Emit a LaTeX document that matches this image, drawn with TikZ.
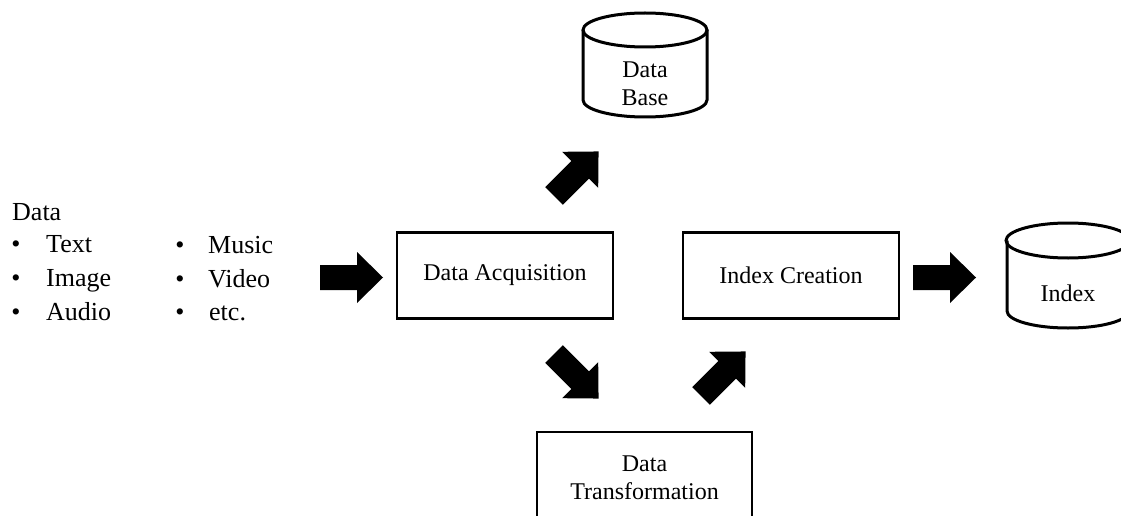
\documentclass[tikz,border=0pt]{standalone}
\usepackage{fontspec}
\setmainfont{Liberation Serif}
\begin{document}
\begin{tikzpicture}[x=1pt,y=-1pt,
  every node/.style={font=\fontsize{24}{27.5}\selectfont, inner sep=0pt},
  stepbox/.style={draw, line width=2.6pt, minimum width=216pt, minimum height=86pt, align=center},
  cyl/.style={line width=3pt},
  label/.style={anchor=base west, font=\fontsize{26}{30}\selectfont},
  dot/.style={anchor=base, font=\fontsize{26}{30}\selectfont},
  blockarrow/.pic={\fill (0,-12.5) -- (37,-12.5) -- (37,-25.5) -- (63,0) -- (37,25.5) -- (37,12.5) -- (0,12.5) -- cycle;}
]
\useasboundingbox (0,0) rectangle (1121,516);
\clip (0,0) rectangle (1121,516);

% input data list
\node[label] (data) at (12,220) {Data};
\node[dot] (b1) at (16,252) {•};
\node[label] (text) at (46,252) {Text};
\node[dot] (b2) at (16,286) {•};
\node[label] (image) at (46,286) {Image};
\node[dot] (b3) at (16,320) {•};
\node[label] (audio) at (46,320) {Audio};
\node[dot] (b4) at (180,253) {•};
\node[label] (music) at (208,253) {Music};
\node[dot] (b5) at (180,287) {•};
\node[label] (video) at (208,287) {Video};
\node[dot] (b6) at (180,320) {•};
\node[label] (etc) at (209,320) {etc.};

% processing steps
\node[stepbox] (acq) at (505,275.5) {Data Acquisition};
\node[stepbox] (idx) at (791,275.5) {Index Creation};
\node[stepbox, minimum width=215pt, minimum height=92pt] (trans) at (644.5,478) {Data\\Transformation};

% data base store
\draw[cyl] (645,30) ellipse [x radius=62, y radius=17];
\draw[cyl] (583,30) -- (583,100) .. controls (583,109.4) and (610.8,117) .. (645,117)
  .. controls (679.2,117) and (707,109.4) .. (707,100) -- (707,30);
\node[align=center] (db) at (645,84) {Data\\Base};

% index store
\draw[cyl] (1068,240.5) ellipse [x radius=62, y radius=17.5];
\draw[cyl] (1007,240.5) -- (1007,311) .. controls (1007,320.4) and (1034,328) .. (1068,328)
  .. controls (1102,328) and (1129,320.4) .. (1129,311) -- (1129,240.5);
\node (index) at (1068,293) {Index};

% flow arrows
\pic at (320,277.5) {blockarrow};
\pic at (913,277.5) {blockarrow};
\pic[rotate=45] at (554,196) {blockarrow};
\pic[rotate=-45] at (554,354) {blockarrow};
\pic[rotate=45] at (701,396) {blockarrow};
\end{tikzpicture}
\end{document}
